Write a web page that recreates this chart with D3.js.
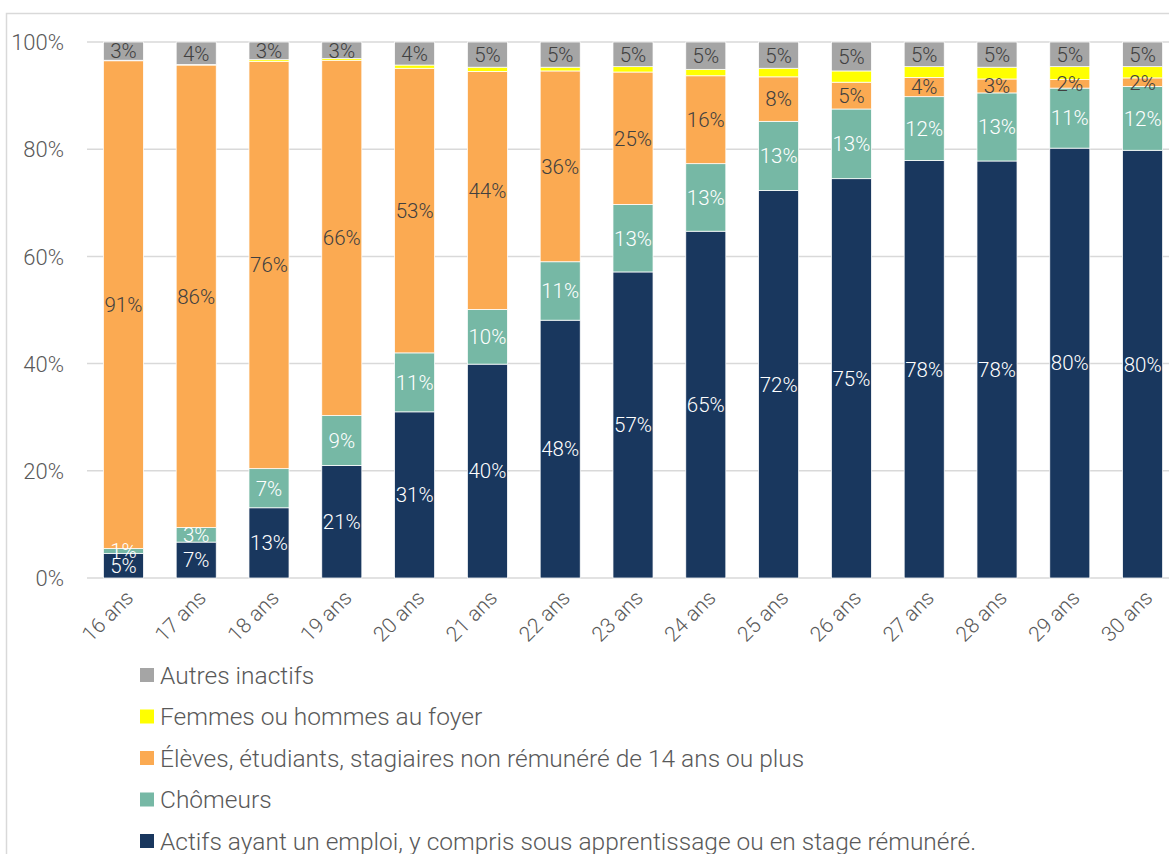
<!DOCTYPE html>
<html><head><meta charset="utf-8">
<script src="https://cdn.jsdelivr.net/npm/d3@7"></script>
<style>
html,body{margin:0;padding:0;background:#fff;}
svg{display:block;font-family:Roboto,"Noto Sans",sans-serif;}
</style></head>
<body><svg id="c" width="1169" height="854"></svg>
<script>
const categories = ["16 ans","17 ans","18 ans","19 ans","20 ans","21 ans","22 ans","23 ans","24 ans","25 ans","26 ans","27 ans","28 ans","29 ans","30 ans"];
const actifs   = [4.6, 6.7, 13.1, 21.0, 31.0, 39.9, 48.1, 57.1, 64.7, 72.3, 74.5, 77.9, 77.8, 80.2, 79.8];
const chomeurs = [0.9, 2.7, 7.3, 9.3, 11.0, 10.2, 10.9, 12.6, 12.6, 12.9, 13.0, 11.9, 12.7, 11.2, 11.9];
const eleves   = [91.0, 86.3, 76.0, 66.3, 53.1, 44.4, 35.6, 24.7, 16.4, 8.3, 5.0, 3.6, 2.6, 1.6, 1.6];
const foyer    = [0.1, 0.1, 0.3, 0.3, 0.6, 0.8, 0.7, 1.0, 1.2, 1.6, 2.1, 2.0, 2.2, 2.4, 2.1];
const autres   = [3.4, 4.2, 3.3, 3.1, 4.3, 4.7, 4.7, 4.6, 5.1, 4.9, 5.4, 4.6, 4.7, 4.6, 4.6];
const yTicks = [0, 20, 40, 60, 80, 100];

const seriesNames = ["Actifs ayant un emploi, y compris sous apprentissage ou en stage rémunéré.","Chômeurs","Élèves, étudiants, stagiaires non rémunéré de 14 ans ou plus","Femmes ou hommes au foyer","Autres inactifs"];
const seriesData = [actifs, chomeurs, eleves, foyer, autres];
const colors = ["#19375e","#76b8a5","#fbaa52","#ffff00","#a5a5a5"];
const labelColors = ["#ffffff","#ffffff","#404040",null,"#404040"];

const svg = d3.select("#c");
const font = "Roboto, 'Noto Sans', sans-serif";

// outer frame
svg.append("rect").attr("x",6.5).attr("y",13.5).attr("width",1300).attr("height",1000)
  .attr("fill","none").attr("stroke","#d9d9d9").attr("stroke-width",1.5);

const x = d3.scaleBand().domain(categories).range([87, 1179]).paddingInner(0.45).paddingOuter(0.225);
const y = d3.scaleLinear().domain([0, 100]).range([578, 42]);

// gridlines
svg.append("g").selectAll("line").data(yTicks).join("line")
  .attr("x1", 87).attr("x2", 1169)
  .attr("y1", d => y(d)).attr("y2", d => y(d))
  .attr("stroke", "#d9d9d9").attr("stroke-width", 1.5);

// y axis labels
const yAxis = d3.axisLeft(y).tickValues(yTicks).tickFormat(d => d + "%").tickSize(0).tickPadding(0);
const ya = svg.append("g").attr("transform","translate(64,0)").call(yAxis);
ya.select(".domain").remove();
ya.selectAll("text").attr("font-family", font).attr("font-weight",300).attr("font-size", 22).attr("fill","#595959").attr("dy","0.35em");

// stacking
const table = categories.map((c, i) => {
  const o = {cat: c};
  seriesNames.forEach((s, j) => o[s] = seriesData[j][i]);
  return o;
});
const stack = d3.stack().keys(seriesNames)(table);

const gBars = svg.append("g");
stack.forEach((layer, j) => {
  gBars.append("g").selectAll("rect").data(layer).join("rect")
    .attr("x", d => x(d.data.cat))
    .attr("width", x.bandwidth())
    .attr("y", d => y(d[1]))
    .attr("height", d => y(d[0]) - y(d[1]))
    .attr("fill", colors[j])
    .attr("stroke", "#ffffff").attr("stroke-width", 0.75);
});

// data labels
stack.forEach((layer, j) => {
  if (!labelColors[j]) return;
  svg.append("g").selectAll("text").data(layer).join("text")
    .attr("x", d => x(d.data.cat) + x.bandwidth()/2)
    .attr("y", d => (y(d[0]) + y(d[1]))/2)
    .attr("dy", "0.36em")
    .attr("text-anchor", "middle")
    .attr("font-family", font).attr("font-weight",300).attr("font-size", 20.5)
    .attr("fill", labelColors[j])
    .text(d => Math.round(d[1]-d[0]) + "%");
});

// x axis labels
svg.append("g").selectAll("text").data(categories).join("text")
  .attr("transform", d => `translate(${x(d) + x.bandwidth()/2 + 6},${594}) rotate(-45)`)
  .attr("text-anchor", "end")
  .attr("dy", "0.35em")
  .attr("font-family", font).attr("font-weight",300).attr("font-size", 21)
  .attr("fill", "#595959")
  .text(d => d);

// legend (reverse order)
const legendOrder = [4,3,2,1,0];
const lg = svg.append("g");
legendOrder.forEach((j, k) => {
  const cy = 675 + k * 41.5;
  lg.append("rect").attr("x", 140).attr("y", cy - 7).attr("width", 14).attr("height", 14).attr("fill", colors[j]);
  lg.append("text").attr("x", 160).attr("y", cy).attr("dy","0.35em")
    .attr("font-family", font).attr("font-weight",300).attr("font-size", 24.5)
    .attr("fill", "#595959").text(seriesNames[j]);
});
</script>
</body></html>
